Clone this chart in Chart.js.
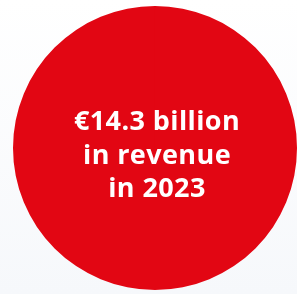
<!DOCTYPE html>
<html>
<head>
<meta charset="utf-8">
<script src="https://cdn.jsdelivr.net/npm/chart.js@4.4.1/dist/chart.umd.min.js"></script>
<style>
  html, body {
    margin: 0;
    padding: 0;
    width: 297px;
    height: 294px;
    overflow: hidden;
    background: linear-gradient(to bottom, #ffffff 0%, #f6f8fb 100%);
  }
  #wrap {
    position: relative;
    width: 297px;
    height: 294px;
  }
  #label {
    position: absolute;
    left: 0;
    width: 314px;
    top: 103px;
    text-align: center;
    color: #ffffff;
    font-family: "Open Sans", sans-serif;
    font-weight: 700;
    font-size: 27px;
    letter-spacing: 0.4px;
    line-height: 33.5px;
    pointer-events: none;
  }
</style>
</head>
<body>
<div id="wrap">
  <canvas id="circleChart" width="297" height="294"></canvas>
  <div id="label">€14.3 billion<br>in revenue<br>in 2023</div>
</div>
<script>
const categories = ["Revenue 2023"];
const revenueValues = [14.3];
const sliceColors = ["#e20613"];

const chartCanvas = document.getElementById("circleChart");

const revenueChart = new Chart(chartCanvas, {
  type: "pie",
  data: {
    labels: categories,
    datasets: [
      {
        data: revenueValues,
        backgroundColor: sliceColors,
        borderWidth: 0
      }
    ]
  },
  options: {
    responsive: false,
    animation: false,
    layout: {
      padding: { left: 13, right: 0, top: 6, bottom: 4 }
    },
    plugins: {
      legend: { display: false },
      tooltip: { enabled: false }
    }
  }
});
</script>
</body>
</html>
